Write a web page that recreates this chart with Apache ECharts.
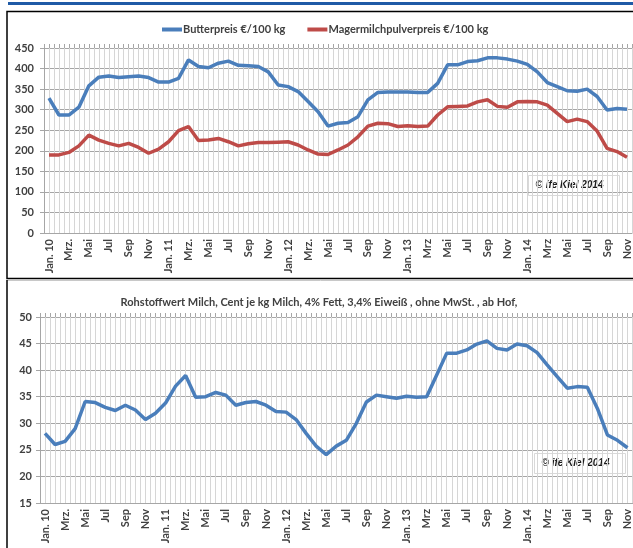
<!DOCTYPE html>
<html>
<head>
  <meta charset="utf-8">
  <title>Butter, MMP und Rohstoffwert Milch</title>
  <script src="https://cdn.jsdelivr.net/npm/echarts@6/dist/echarts.min.js"></script>
  <style>
    html, body { margin: 0; padding: 0; background: #fff; }
    #chart { width: 633px; height: 548px; }
  </style>
</head>
<body>
  <div id="chart"></div>
  <script>
    // Monate Jan. 2010 bis Nov. 2014
    const months = [
      'Jan. 10', 'Feb', 'Mrz.', 'Apr', 'Mai', 'Jun', 'Jul', 'Aug', 'Sep', 'Okt', 'Nov', 'Dez',
      'Jan. 11', 'Feb', 'Mrz.', 'Apr', 'Mai', 'Jun', 'Jul', 'Aug', 'Sep', 'Okt', 'Nov', 'Dez',
      'Jan. 12', 'Feb', 'Mrz.', 'Apr', 'Mai', 'Jun', 'Jul', 'Aug', 'Sep', 'Okt', 'Nov', 'Dez',
      'Jan. 13', 'Feb', 'Mrz', 'Apr', 'Mai', 'Jun', 'Jul', 'Aug', 'Sep', 'Okt', 'Nov', 'Dez',
      'Jan. 14', 'Feb', 'Mrz', 'Apr', 'Mai', 'Jun', 'Jul', 'Aug', 'Sep', 'Okt', 'Nov'
    ];

    const butter = [
      328, 287, 287, 306, 358, 379, 382, 378, 380, 382, 378, 367,
      367, 376, 421, 405, 402, 413, 418, 408, 407, 405, 392, 360,
      356, 344, 320, 295, 260, 267, 269, 283, 324, 342, 343, 343,
      343, 342, 342, 364, 409, 409, 417, 419, 426, 426, 423, 418,
      410, 392, 366, 356, 346, 345, 350, 332, 299, 303, 301
    ];

    const magermilch = [
      190, 190, 196, 212, 238, 226, 218, 212, 218, 208, 194, 204,
      222, 249, 259, 225, 226, 230, 222, 212, 217, 220, 220, 221,
      222, 214, 202, 192, 191, 202, 214, 234, 260, 267, 266, 259,
      261, 259, 260, 287, 307, 308, 309, 319, 324, 308, 306, 319,
      320, 319, 311, 291, 271, 277, 271, 248, 206, 198, 184
    ];

    const rohstoffwert = [
      28.1, 26.0, 26.6, 29.0, 34.1, 33.9, 33.0, 32.4, 33.4, 32.5, 30.7, 31.9,
      33.8, 37.0, 39.0, 34.9, 35.0, 35.8, 35.3, 33.4, 33.9, 34.1, 33.4, 32.2,
      32.1, 30.7, 28.1, 25.7, 24.1, 25.7, 26.8, 30.0, 34.0, 35.3, 35.0, 34.7,
      35.1, 34.9, 35.0, 39.1, 43.2, 43.2, 43.8, 44.9, 45.5, 44.1, 43.8, 44.9,
      44.6, 43.3, 41.0, 38.8, 36.6, 36.9, 36.8, 32.8, 27.8, 26.8, 25.4
    ];

    const titleBottom = 'Rohstoffwert Milch, Cent je kg Milch, 4% Fett, 3,4% Eiweiß , ohne MwSt. , ab Hof,';
    const copyright = '© ife Kiel 2014';

    // halbe Monate, nur fuer die senkrechten Gitterlinien
    const halfMonths = new Array(months.length * 2).fill('');

    const font = 'Lato';
    const textColor = '#404040';
    const blue = '#4a7ebb';
    const red = '#be4b48';

    const chart = echarts.init(document.getElementById('chart'));

    function monthAxis(gridIndex) {
      return {
        type: 'category',
        gridIndex: gridIndex,
        data: months,
        boundaryGap: true,
        axisLine: { lineStyle: { color: '#a6a6a6' } },
        axisTick: { show: false },
        splitLine: { show: false },
        axisLabel: {
          interval: 1,
          rotate: 90,
          margin: 6,
          fontFamily: font,
          fontWeight: 'bold',
          fontSize: 11,
          color: textColor
        }
      };
    }

    function gridAxis(gridIndex) {
      return {
        type: 'category',
        gridIndex: gridIndex,
        data: halfMonths,
        boundaryGap: true,
        axisLine: { show: false },
        axisTick: { show: true, length: 4, interval: 0, lineStyle: { color: '#a6a6a6' } },
        axisLabel: { show: false },
        splitLine: { show: true, interval: 0, lineStyle: { color: '#d6d6d6', width: 1 } }
      };
    }

    function valueAxis(gridIndex, min, max, interval, margin) {
      return {
        type: 'value',
        gridIndex: gridIndex,
        min: min,
        max: max,
        interval: interval,
        axisLine: { show: true, lineStyle: { color: '#a6a6a6' } },
        axisTick: { show: true, length: 4, lineStyle: { color: '#a6a6a6' } },
        splitLine: { show: true, lineStyle: { color: '#a6a6a6', width: 1 } },
        axisLabel: {
          margin: margin,
          fontFamily: font,
          fontWeight: 'bold',
          fontSize: 11,
          color: textColor
        }
      };
    }

    function copyrightBox(left, top) {
      return {
        type: 'group', left: left, top: top, z: 100,
        children: [
          { type: 'rect', shape: { x: 0, y: 0, width: 91, height: 20 }, style: { fill: '#fff', stroke: '#d9d9d9', lineWidth: 1 } },
          {
            type: 'text', x: 7, y: 10,
            style: {
              text: copyright, fill: '#1a1a1a', verticalAlign: 'middle',
              font: 'italic bold 10px "Liberation Sans"'
            }
          }
        ]
      };
    }

    const option = {
      animation: false,
      backgroundColor: '#fff',
      textStyle: { fontFamily: font },
      legend: {
        left: 157,
        top: 19,
        itemGap: 22,
        itemWidth: 20,
        itemHeight: 4,
        icon: 'rect',
        textStyle: { fontFamily: font, fontWeight: 'bold', fontSize: 11, color: textColor, padding: [0, 0, 0, -4] },
        data: ['Butterpreis €/100 kg', 'Magermilchpulverpreis €/100 kg']
      },
      title: {
        text: titleBottom,
        left: 314,
        textAlign: 'center',
        top: 292,
        textStyle: { fontFamily: font, fontWeight: 'bold', fontSize: 11, color: textColor }
      },
      grid: [
        { left: 44, right: 1, top: 48, bottom: 315 },
        { left: 40, right: 0, top: 317, bottom: 45 }
      ],
      xAxis: [monthAxis(0), gridAxis(0), monthAxis(1), gridAxis(1)],
      yAxis: [valueAxis(0, 0, 450, 50, 10), valueAxis(1, 15, 50, 5, 8)],
      series: [
        {
          name: 'Butterpreis €/100 kg',
          type: 'line',
          xAxisIndex: 0,
          yAxisIndex: 0,
          data: butter,
          showSymbol: false,
          lineStyle: { color: blue, width: 3.5 },
          itemStyle: { color: blue }
        },
        {
          name: 'Magermilchpulverpreis €/100 kg',
          type: 'line',
          xAxisIndex: 0,
          yAxisIndex: 0,
          data: magermilch,
          showSymbol: false,
          lineStyle: { color: red, width: 3.5 },
          itemStyle: { color: red }
        },
        {
          name: 'Rohstoffwert',
          type: 'line',
          xAxisIndex: 2,
          yAxisIndex: 1,
          data: rohstoffwert,
          showSymbol: false,
          lineStyle: { color: blue, width: 3.5 },
          itemStyle: { color: blue }
        }
      ],
      graphic: [
        { type: 'rect', shape: { x: 8, y: 2, width: 630, height: 3 }, style: { fill: '#1f5aa6' }, z: 100 },
        { type: 'rect', shape: { x: 7, y: 11.5, width: 640, height: 267 }, style: { fill: null, stroke: '#000', lineWidth: 1.5 }, z: 100 },
        { type: 'line', shape: { x1: 7, y1: 280.5, x2: 640, y2: 280.5 }, style: { stroke: '#c8c8c8', lineWidth: 1 }, z: 100 },
        { type: 'line', shape: { x1: 7, y1: 280, x2: 7, y2: 548 }, style: { stroke: '#000', lineWidth: 1.5 }, z: 100 },
        copyrightBox(528, 175),
        copyrightBox(534, 453)
      ]
    };

    chart.setOption(option);
  </script>
</body>
</html>
